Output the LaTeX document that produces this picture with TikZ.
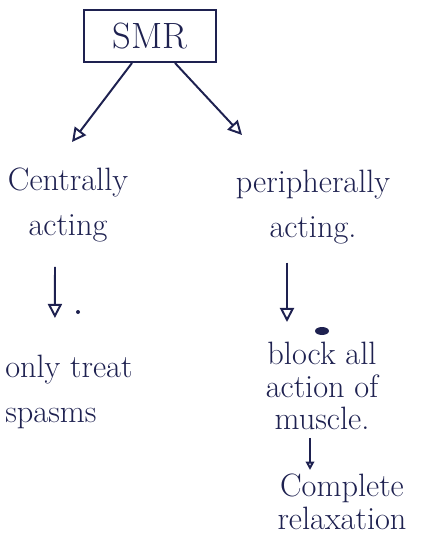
\documentclass[tikz,border=0pt]{standalone}
\usetikzlibrary{arrows.meta, positioning, calc}
\definecolor{inkblue}{HTML}{1E2150}

\begin{document}
\begin{tikzpicture}[x=0.025cm, y=-0.025cm,
		ink/.style={draw=inkblue, line width=1.4pt},
		arr/.style={ink, -{Triangle[open, length=10pt, width=10pt]}},
		smallarr/.style={ink, -{Triangle[open, length=6pt, width=6pt]}},
		hand/.style={text=inkblue, inner sep=0pt, align=center,
			font=\fontsize{23}{32}\selectfont}
	]
	\useasboundingbox (0,0) rectangle (434,535);

	\node[ink,
		minimum width=3.275cm,
		minimum height=1.3cm,
		text=inkblue,
		font=\fontsize{26}{30}\selectfont
	] (smr) at (150,36) {SMR};

	%% two kinds
	\node[hand, anchor=north] (central) at (68,168) {Centrally\\acting};
	\node[hand, anchor=north] (periph) at (313,170) {peripherally\\acting.};

	\draw[arr] ($(smr.south)+(-18,0)$) -- ($(central.north)+(4,-26)$);
	\draw[arr] ($(smr.south)+(25,0)$) -- ($(periph.north)+(-71,-35)$);

	%% what they do
	\node[hand, align=left, anchor=north west] (treat) at (5,355) {only treat\\spasms};
	\node[hand, anchor=north,
		font=\fontsize{23}{23}\selectfont
	] (block) at (322,342) {block all\\action of\\muscle.};
	\node[hand, anchor=north,
		font=\fontsize{23}{23}\selectfont
	] (complete) at (342,474) {Complete\\relaxation};

	\draw[arr] ($(central.south)+(-13,24)$) -- ($(treat.north)+(-14,-37)$);
	\fill[inkblue] (78,312) circle (2);
	\draw[arr] ($(periph.south)+(-26,18)$) -- ($(block.north)+(-35,-20)$);
	\fill[inkblue] (322,331) ellipse (7 and 4);
	\draw[smallarr] ($(block.south)+(-12,8)$) -- ($(complete.north)+(-32,-4)$);
\end{tikzpicture}
\end{document}
